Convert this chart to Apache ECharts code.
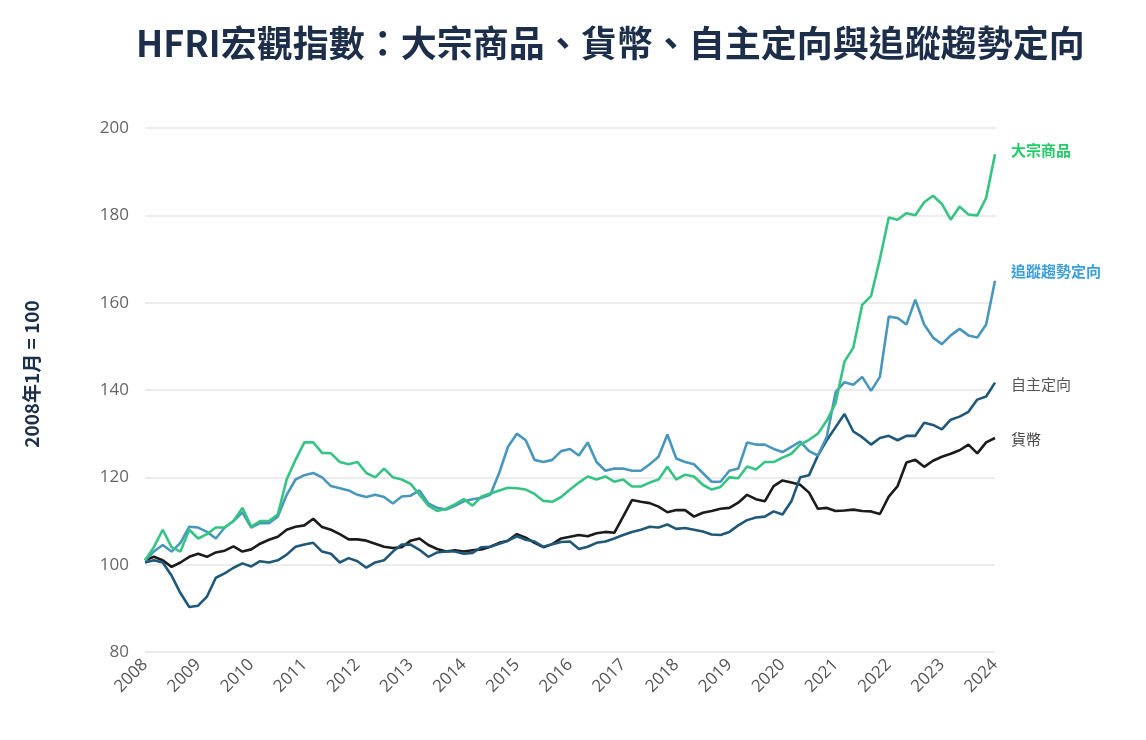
<!DOCTYPE html>
<html>
<head>
<meta charset="utf-8">
<script src="https://cdn.jsdelivr.net/npm/echarts@6/dist/echarts.min.js"></script>
<style>
html,body{margin:0;padding:0;background:#fff;}
#chart{width:1146px;height:740px;}
</style>
</head>
<body>
<div id="chart"></div>
<script>
// Bimonthly observations from Jan 2008 to Jan 2024 (index, Jan 2008 = 100)
const startYear = 2008, endYear = 2024;
const yearTicks = ['2008','2009','2010','2011','2012','2013','2014','2015','2016','2017','2018','2019','2020','2021','2022','2023','2024'];
const seriesNames = ['大宗商品', '追蹤趨勢定向', '自主定向', '貨幣'];

const commodity = [
101,104,108,104,103,108, 106,107,108.5,108.5,110,113, 108.7,110,110,111.5,119.5,124,
128,128,125.6,125.5,123.5,123, 123.5,121,120,122,120,119.5, 118.5,116,113.5,112.3,112.8,113.8,
115,113.5,115.6,116.3,117,117.6, 117.5,117.2,116.2,114.6,114.4,115.5, 117.2,118.8,120.2,119.5,120.2,119,
119.5,117.9,117.9,118.8,119.5,122.4, 119.5,120.6,120.2,118.3,117.2,117.8, 120,119.8,122.5,121.8,123.5,123.5,
124.5,125.4,127.5,128.6,130,133, 137,146.5,149.7,159.5,161.5,170, 179.5,179,180.5,180,183,184.5,
182.6,179,182,180.2,180,184, 194
];
const trend = [
101,103,104.5,103,105,108.7, 108.5,107.5,106,108.5,110,112, 108.5,109.5,109.5,111,116,119.5,
120.5,121,120,118,117.5,117, 116,115.5,116,115.5,114,115.6, 115.8,117,114,113,112.6,113.5,
114.5,115,115.3,116,121,127, 130,128.5,124,123.5,124,126, 126.5,125,128,123.5,121.5,122,
122,121.5,121.5,123,124.7,129.8, 124.3,123.5,123,121,119,119, 121.5,122,128,127.5,127.5,126.5,
125.8,127,128.2,126,125,129.3, 139.5,141.8,141.2,143,139.8,143, 156.8,156.5,155,160.7,155,152,
150.5,152.5,154,152.5,152,155, 165
];
const discretionary = [
100.5,101,100.5,97.5,93.5,90.3, 90.6,92.7,97,98,99.3,100.3, 99.6,100.8,100.5,101,102.3,104.1,
104.6,105,103,102.5,100.5,101.5, 100.8,99.3,100.5,101,103,104.6, 104.6,103.4,101.8,102.8,103,103,
102.5,102.7,104,104.1,104.8,105.5, 106.5,105.7,105.3,104.1,104.7,105.2, 105.3,103.6,104.1,105,105.3,106,
106.8,107.5,108,108.7,108.5,109.2, 108.2,108.4,108,107.6,106.9,106.8, 107.5,109,110.2,110.8,111,112.2,
111.5,114.5,120,120.5,125,128.5, 131.5,134.5,130.5,129.2,127.5,129, 129.5,128.5,129.5,129.5,132.5,132,
131,133.2,133.9,135,137.8,138.5, 141.7
];
const currency = [
101,101.8,101,99.5,100.5,101.8, 102.5,101.8,102.8,103.2,104.2,103, 103.5,104.8,105.7,106.4,108,108.7,
109,110.5,108.6,108,107,105.8, 105.8,105.5,104.8,104.1,103.8,104, 105.5,106,104.5,103.6,103,103.3,
103,103.3,103.5,104.1,105,105.5, 107,106.2,105,104,104.7,106, 106.4,106.8,106.5,107.2,107.5,107.3,
111,114.8,114.4,114.1,113.3,112, 112.5,112.5,111,111.9,112.3,112.8, 113,114.2,116,115,114.5,118,
119.3,118.8,118.3,116.5,112.8,113, 112.3,112.4,112.6,112.3,112.2,111.6, 115.6,118,123.4,124,122.4,123.8,
124.7,125.4,126.2,127.5,125.5,128, 129
];

// x positions: decimal years for every 2nd month
const dates = [];
for (let y = startYear; y <= endYear; y++) {
  for (let m = 0; m < 12; m += 2) {
    if (y === endYear && m > 0) break;
    dates.push(y + m / 12);
  }
}
const pair = arr => arr.map((v, i) => [dates[i], v]);

const colors = ['#35c483', '#4a97bd', '#1f5878', '#1b1b1b'];
const labelColors = ['#22cc66', '#3a9fdc', '#555555', '#444444'];
const labelOffsets = [[8, -4], [8, -10], [8, 2], [8, 1]];
const values = [commodity, trend, discretionary, currency];

const chart = echarts.init(document.getElementById('chart'), null, {renderer: 'canvas'});
chart.setOption({
  backgroundColor: '#ffffff',
  animation: false,
  title: {
    text: 'HFRI宏觀指數：大宗商品、貨幣、自主定向與追蹤趨勢定向',
    left: 131, top: 20,
    textStyle: {fontFamily: 'Noto Sans CJK TC', fontSize: 36, fontWeight: 'bold', color: '#1c2e4a'}
  },
  graphic: [{
    type: 'text',
    x: 32, y: 374,
    rotation: Math.PI / 2,
    style: {
      text: '2008年1月 = 100',
      fontFamily: 'Noto Sans CJK TC', fontSize: 19, fontWeight: 'bold', fill: '#1c2e4a',
      align: 'center', verticalAlign: 'middle'
    }
  }],
  grid: {left: 145, right: 151, top: 128, bottom: 88},
  xAxis: {
    type: 'value', min: startYear, max: endYear, interval: 1,
    axisLine: {show: false},
    axisTick: {show: false},
    splitLine: {show: false},
    axisLabel: {
      rotate: 45, fontSize: 17, color: '#555', fontFamily: 'Open Sans', margin: 10,
      formatter: v => yearTicks[Math.round(v - startYear)] || ''
    }
  },
  yAxis: {
    type: 'value', min: 80, max: 200, interval: 20,
    axisLine: {show: false}, axisTick: {show: false},
    axisLabel: {fontSize: 17, color: '#666', fontFamily: 'Open Sans', margin: 16},
    splitLine: {lineStyle: {color: '#e6e6e6', width: 1.5}}
  },
  series: values.map((arr, i) => ({
    name: seriesNames[i],
    type: 'line',
    data: pair(arr),
    showSymbol: false,
    z: 10 - i,
    lineStyle: {color: colors[i], width: 2.6},
    itemStyle: {color: colors[i]},
    endLabel: {
      show: true,
      formatter: '{a}',
      offset: labelOffsets[i],
      color: labelColors[i],
      fontFamily: 'Noto Sans CJK TC',
      fontSize: 15,
      fontWeight: i < 2 ? 'bold' : 'normal'
    }
  }))
});
</script>
</body>
</html>
